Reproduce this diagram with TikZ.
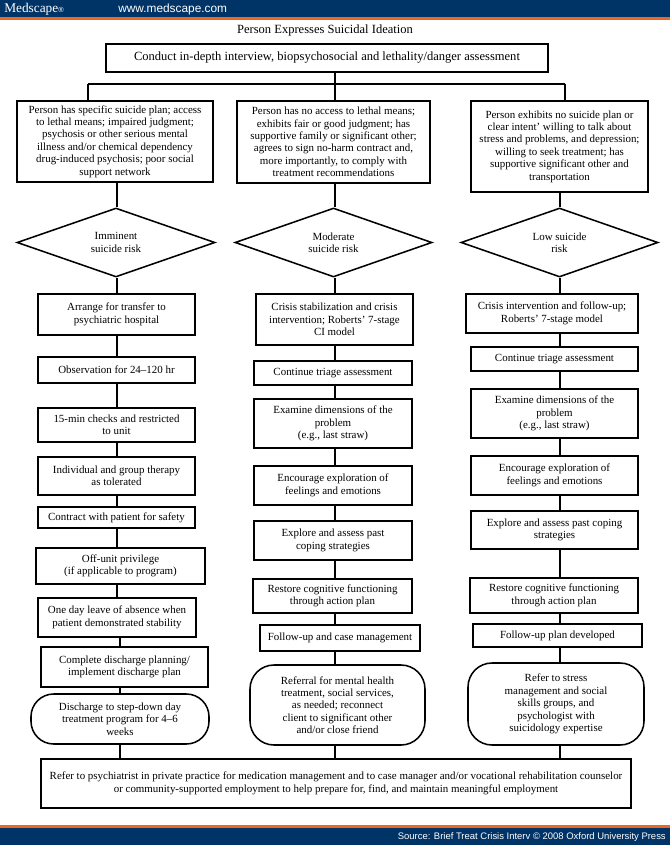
\documentclass[tikz,border=0pt]{standalone}
\usepackage{fontspec}
\setmainfont{Liberation Serif}
\newfontfamily\hdrsans{Liberation Sans}
\usetikzlibrary{shapes.geometric}
\definecolor{msnavy}{RGB}{0,51,102}
\definecolor{msorange}{RGB}{236,102,36}
\newcommand\bodyfont{\fontsize{8.2pt}{9.3pt}\selectfont}
\newcommand\bigfont{\fontsize{9.4pt}{11pt}\selectfont}
\begin{document}
\begin{tikzpicture}[x=0.75pt,y=-0.75pt,
  bx/.style={draw, line width=1.15pt, align=center, inner sep=1pt, font=\bodyfont},
  sz/.style 2 args={minimum width={#1*0.75pt}, minimum height={#2*0.75pt}},
  rbx/.style={bx, rounded corners=18pt},
  dia/.style={draw, line width=1.15pt, diamond, aspect=2.85, inner sep=0pt, align=center, font=\bodyfont},
  conn/.style={line width=1.15pt},
  bar/.style={line width=1.6pt},
  hdr/.style={text=white, inner sep=0pt}]
\useasboundingbox (0,0) rectangle (670,845);
% header and footer bands
\fill[msnavy] (0,0) rectangle (670,17);
\fill[msorange] (0,17) rectangle (670,20);
\fill[msorange] (0,825) rectangle (670,828);
\fill[msnavy] (0,828) rectangle (670,845);
\node[hdr, anchor=west, font=\fontsize{10pt}{10pt}\selectfont] (logo) at (4,9) {Medscape{\fontsize{5.5pt}{6pt}\selectfont\hdrsans ®}};
\node[hdr, anchor=west, font=\hdrsans\fontsize{8.9pt}{10pt}\selectfont] (url) at (118,9) {www.medscape.com};
\node[hdr, anchor=east, font=\hdrsans\fontsize{7.1pt}{8pt}\selectfont] (src) at (666,837) {Source: Brief Treat Crisis Interv © 2008 Oxford University Press};

% title and first box
\node[font=\bigfont, inner sep=0pt] (title) at (325,30) {Person Expresses Suicidal Ideation};
\node[bx, font=\bigfont, sz={442}{28}] (top) at (327,58) {Conduct in-depth interview, biopsychosocial and lethality/danger assessment};

% assessment boxes
\node[bx, sz={196}{81}] (L0) at (115,141.5) {Person has specific suicide plan; access\\to lethal means; impaired judgment;\\psychosis or other serious mental\\illness and/or chemical dependency\\drug-induced psychosis; poor social\\support network};
\node[bx, sz={193}{82}] (M0) at (333.5,142) {Person has no access to lethal means;\\exhibits fair or good judgment; has\\supportive family or significant other;\\agrees to sign no-harm contract and,\\more importantly, to comply with\\treatment recommendations};
\node[bx, sz={177}{91}] (R0) at (559.5,146.5) {Person exhibits no suicide plan or\\clear intent' willing to talk about\\stress and problems, and depression;\\willing to seek treatment; has\\supportive significant other and\\transportation};

% diamonds
\node[dia, sz={198}{69}] (LD) at (116,242.5) {Imminent\\suicide risk};
\node[dia, sz={197}{69}] (MD) at (333.5,242.5) {Moderate\\suicide risk};
\node[dia, sz={197}{69}] (RD) at (559.5,242.5) {Low suicide\\risk};

% left column
\node[bx, sz={157}{41}] (a1) at (116.5,314.5) {Arrange for transfer to\\psychiatric hospital};
\node[bx, sz={157}{26}] (a2) at (116.5,370) {Observation for 24--120 hr};
\node[bx, sz={157}{34}] (a3) at (116.5,425) {15-min checks and restricted\\to unit};
\node[bx, sz={157}{38}] (a4) at (116.5,476) {Individual and group therapy\\as tolerated};
\node[bx, sz={157}{21}] (a5) at (116.5,517.5) {Contract with patient for safety};
\node[bx, sz={169}{36}] (a6) at (120.5,566) {Off-unit privilege\\(if applicable to program)};
\node[bx, sz={158}{39}] (a7) at (117,617.5) {One day leave of absence when\\patient demonstrated stability};
\node[bx, sz={167}{40}] (a8) at (124.5,667) {Complete discharge planning/\\implement discharge plan};
\node[rbx, rounded corners=17pt, sz={178}{50}] (a9) at (120,719) {Discharge to step-down day\\treatment program for 4--6\\weeks};

% middle column
\node[bx, sz={157}{51}] (m1) at (334.5,319.5) {Crisis stabilization and crisis\\intervention; Roberts' 7-stage\\CI model};
\node[bx, sz={158}{24}] (m2) at (333,373) {Continue triage assessment};
\node[bx, sz={158}{49}] (m3) at (333,423.5) {Examine dimensions of the\\problem\\(e.g., last straw)};
\node[bx, sz={158}{39}] (m4) at (333,485.5) {Encourage exploration of\\feelings and emotions};
\node[bx, sz={158}{39}] (m5) at (333,540.5) {Explore and assess past\\coping strategies};
\node[bx, sz={159}{34}] (m6) at (332.5,596) {Restore cognitive functioning\\through action plan};
\node[bx, sz={160}{26}] (m7) at (340,638) {Follow-up and case management};
\node[rbx, sz={175}{80}] (m8) at (337.5,705) {Referral for mental health\\treatment, social services,\\as needed; reconnect\\client to significant other\\and/or close friend};

% right column
\node[bx, sz={172}{39}] (r1) at (552,313.5) {Crisis intervention and follow-up;\\Roberts' 7-stage model};
\node[bx, sz={167}{24}] (r2) at (554.5,359) {Continue triage assessment};
\node[bx, sz={167}{49}] (r3) at (554.5,413.5) {Examine dimensions of the\\problem\\(e.g., last straw)};
\node[bx, sz={167}{39}] (r4) at (554.5,475.5) {Encourage exploration of\\feelings and emotions};
\node[bx, sz={167}{38}] (r5) at (554.5,530) {Explore and assess past coping\\strategies};
\node[bx, sz={168}{35}] (r6) at (554,595.5) {Restore cognitive functioning\\through action plan};
\node[bx, sz={169}{23}] (r7) at (557.5,635.5) {Follow-up plan developed};
\node[rbx, sz={176}{82}] (r8) at (556,704) {Refer to stress\\management and social\\skills groups, and\\psychologist with\\suicidology expertise};

% bottom box
\node[bx, sz={590}{49}] (bot) at (336,783.5) {Refer to psychiatrist in private practice for medication management and to case manager and/or vocational rehabilitation counselor\\or community-supported employment to help prepare for, find, and maintain meaningful employment};

% column lines
\coordinate (cl) at (117,0);
\coordinate (cl2) at (120,0);
\coordinate (cm) at (335,0);
\coordinate (cr) at (560,0);
\coordinate (barL) at (88,84);
\coordinate (barR) at (565,84);

% top connectors
\draw[conn] (top.south -| cm) -- (M0.north -| cm);
\draw[bar] (barL) -- (barR);
\draw[conn] (barL) -- (L0.north -| barL);
\draw[conn] (barR) -- (R0.north -| barR);

% left
\draw[conn] (L0.south -| cl) -- (LD.north -| cl);
\draw[conn] (LD.south -| cl) -- (a1.north -| cl);
\draw[conn] (a1.south -| cl) -- (a2.north -| cl);
\draw[conn] (a2.south -| cl) -- (a3.north -| cl);
\draw[conn] (a3.south -| cl) -- (a4.north -| cl);
\draw[conn] (a4.south -| cl) -- (a5.north -| cl);
\draw[conn] (a5.south -| cl) -- (a6.north -| cl);
\draw[conn] (a6.south -| cl) -- (a7.north -| cl);
\draw[conn] (a7.south -| cl2) -- (a8.north -| cl2);
\draw[conn] (a8.south -| cl2) -- (a9.north -| cl2);
\draw[conn] (a9.south -| cl2) -- (bot.north -| cl2);

% middle
\draw[conn] (M0.south -| cm) -- (MD.north -| cm);
\draw[conn] (MD.south -| cm) -- (m1.north -| cm);
\draw[conn] (m1.south -| cm) -- (m2.north -| cm);
\draw[conn] (m2.south -| cm) -- (m3.north -| cm);
\draw[conn] (m3.south -| cm) -- (m4.north -| cm);
\draw[conn] (m4.south -| cm) -- (m5.north -| cm);
\draw[conn] (m5.south -| cm) -- (m6.north -| cm);
\draw[conn] (m6.south -| cm) -- (m7.north -| cm);
\draw[conn] (m7.south -| cm) -- (m8.north -| cm);
\draw[conn] (m8.south -| cm) -- (bot.north -| cm);

% right
\draw[conn] (R0.south -| cr) -- (RD.north -| cr);
\draw[conn] (RD.south -| cr) -- (r1.north -| cr);
\draw[conn] (r1.south -| cr) -- (r2.north -| cr);
\draw[conn] (r2.south -| cr) -- (r3.north -| cr);
\draw[conn] (r3.south -| cr) -- (r4.north -| cr);
\draw[conn] (r4.south -| cr) -- (r5.north -| cr);
\draw[conn] (r5.south -| cr) -- (r6.north -| cr);
\draw[conn] (r6.south -| cr) -- (r7.north -| cr);
\draw[conn] (r7.south -| cr) -- (r8.north -| cr);
\draw[conn] (r8.south -| cr) -- (bot.north -| cr);
\end{tikzpicture}
\end{document}
